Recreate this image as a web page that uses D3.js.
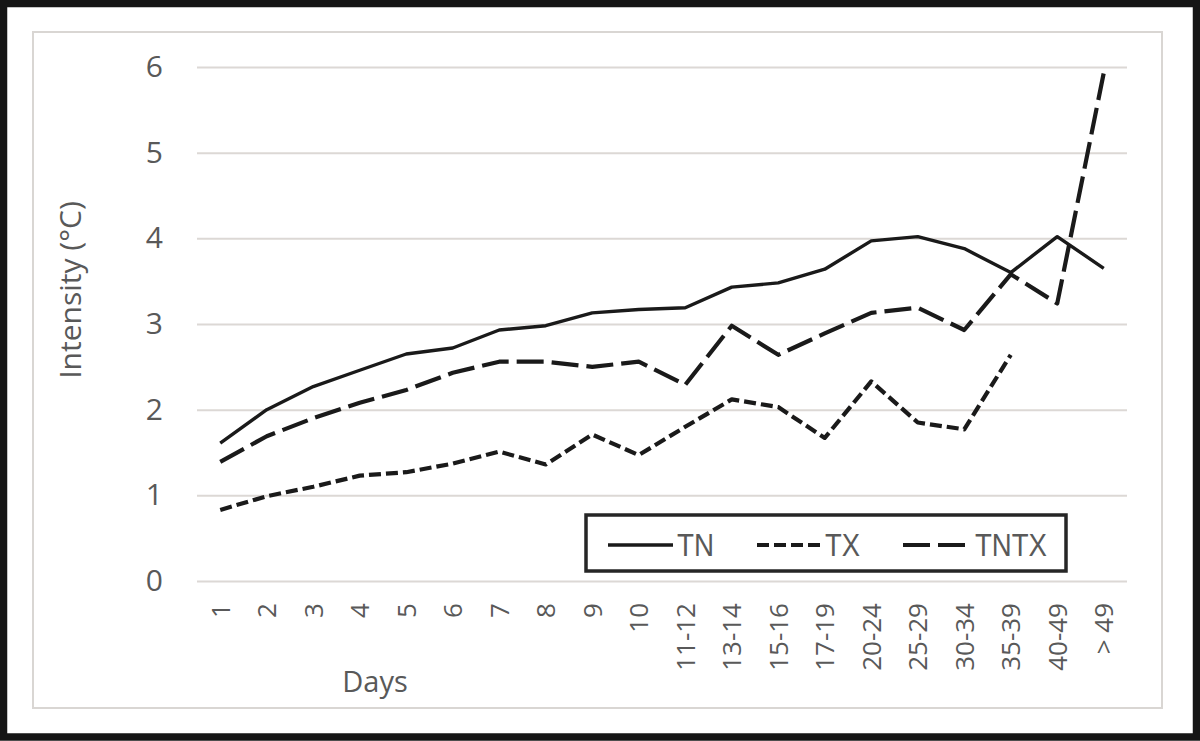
<!DOCTYPE html>
<html>
<head>
<meta charset="utf-8">
<script src="https://cdn.jsdelivr.net/npm/d3@7"></script>
<style>
  html, body { margin: 0; padding: 0; background: #fff; }
  svg { display: block; }
</style>
</head>
<body>
<svg id="chart" width="1200" height="741"></svg>
<script>
// ---- data ----
const categories = ["1","2","3","4","5","6","7","8","9","10","11-12","13-14","15-16","17-19","20-24","25-29","30-34","35-39","40-49","> 49"];
const seriesNames = ["TN", "TX", "TNTX"];
const tnValues   = [1.61, 2.00, 2.27, 2.46, 2.65, 2.72, 2.93, 2.98, 3.13, 3.17, 3.19, 3.43, 3.48, 3.64, 3.97, 4.02, 3.88, 3.60, 4.02, 3.65];
const txValues   = [0.83, 0.99, 1.10, 1.23, 1.27, 1.37, 1.51, 1.36, 1.71, 1.47, 1.80, 2.12, 2.03, 1.67, 2.33, 1.85, 1.77, 2.64, null, null];
const tntxValues = [1.39, 1.69, 1.90, 2.08, 2.23, 2.43, 2.56, 2.56, 2.50, 2.56, 2.29, 2.98, 2.64, 2.89, 3.13, 3.19, 2.93, 3.58, 3.24, 5.93];
const yTicks = [0, 1, 2, 3, 4, 5, 6];
const xTitle = "Days";
const yTitle = "Intensity (°C)";

// ---- layout ----
const svg = d3.select("#chart");
const W = 1200, H = 741;
const plot = { left: 197, right: 1127, top: 67, bottom: 581 };
const textColor = "#595959";
const lineColor = "#1a1a1a";
const gridColor = "#dcd8d5";
const labelFont = "'Open Sans', 'Noto Sans', sans-serif";
const legendFont = "'Liberation Sans Narrow', 'Liberation Sans', Arial, sans-serif";

const styles = {
  TN:   { width: 3.4, dash: null },
  TX:   { width: 4.2, dash: "12,5" },
  TNTX: { width: 4.2, dash: "27,8" }
};

// outer frame and inner chart-area border
svg.append("rect").attr("x", 0).attr("y", 0).attr("width", W).attr("height", H).attr("fill", "#fff");
svg.append("rect").attr("x", 33).attr("y", 32).attr("width", 1129).attr("height", 676)
  .attr("fill", "none").attr("stroke", "#d9d6d3").attr("stroke-width", 2);
svg.append("rect").attr("x", 3.5).attr("y", 3.5).attr("width", W - 7).attr("height", H - 7.5)
  .attr("fill", "none").attr("stroke", "#151515").attr("stroke-width", 7.5);

// scales
const x = d3.scaleBand().domain(categories).range([plot.left, plot.right]).paddingInner(0).paddingOuter(0);
const y = d3.scaleLinear().domain([0, 6]).range([plot.bottom, plot.top]);
const cx = c => x(c) + x.bandwidth() / 2;

// gridlines via y axis
const yAxis = d3.axisLeft(y).tickValues(yTicks).tickSize(-(plot.right - plot.left)).tickPadding(34).tickFormat(d3.format("d"));
const gy = svg.append("g").attr("transform", `translate(${plot.left},0)`).call(yAxis);
gy.select(".domain").remove();
gy.selectAll(".tick line").attr("stroke", gridColor).attr("stroke-width", 2);
gy.selectAll(".tick text").attr("fill", textColor).attr("font-family", labelFont).attr("font-size", 30);

// x axis labels (rotated)
const xAxis = d3.axisBottom(x).tickSize(0).tickPadding(0);
const gx = svg.append("g").attr("transform", `translate(0,${plot.bottom})`).call(xAxis);
gx.select(".domain").remove();
gx.selectAll(".tick text")
  .attr("fill", textColor).attr("font-family", labelFont).attr("font-size", 26)
  .attr("transform", "rotate(-90)")
  .attr("text-anchor", "end")
  .attr("x", -22).attr("y", 0).attr("dy", "0.36em");

// axis titles
svg.append("text").text(yTitle)
  .attr("transform", "translate(81,290) rotate(-90)")
  .attr("text-anchor", "middle").attr("fill", textColor)
  .attr("font-family", labelFont).attr("font-size", 30);
svg.append("text").text(xTitle)
  .attr("x", 375).attr("y", 692).attr("text-anchor", "middle").attr("fill", textColor)
  .attr("font-family", labelFont).attr("font-size", 29);

// lines
const seriesData = { TN: tnValues, TX: txValues, TNTX: tntxValues };
const line = d3.line()
  .defined(d => d.v !== null)
  .x(d => cx(d.c)).y(d => y(d.v));

seriesNames.forEach(name => {
  const pts = categories.map((c, i) => ({ c, v: seriesData[name][i] }));
  const st = styles[name];
  svg.append("path").datum(pts)
    .attr("d", line)
    .attr("fill", "none")
    .attr("stroke", lineColor)
    .attr("stroke-width", st.width)
    .attr("stroke-linejoin", "round")
    .attr("stroke-dasharray", st.dash);
});

// legend
const lg = svg.append("g");
lg.append("rect").attr("x", 586).attr("y", 515).attr("width", 480).attr("height", 56)
  .attr("fill", "#fff").attr("stroke", "#262626").attr("stroke-width", 3.5);
const legendItems = [
  { name: "TN",   x1: 608, x2: 673, tx: 677, len: 37 },
  { name: "TX",   x1: 757, x2: 823, tx: 825, len: 35 },
  { name: "TNTX", x1: 903, x2: 966, tx: 975, len: 72 }
];
legendItems.forEach(it => {
  const st = styles[it.name];
  lg.append("line").attr("x1", it.x1).attr("x2", it.x2).attr("y1", 545).attr("y2", 545)
    .attr("stroke", lineColor).attr("stroke-width", st.width)
    .attr("stroke-dasharray", st.dash);
  lg.append("text").text(it.name)
    .attr("x", it.tx).attr("y", 556)
    .attr("fill", textColor).attr("font-family", legendFont)
    .attr("font-size", 31)
    .attr("textLength", it.len).attr("lengthAdjust", "spacingAndGlyphs");
});
</script>
</body>
</html>
